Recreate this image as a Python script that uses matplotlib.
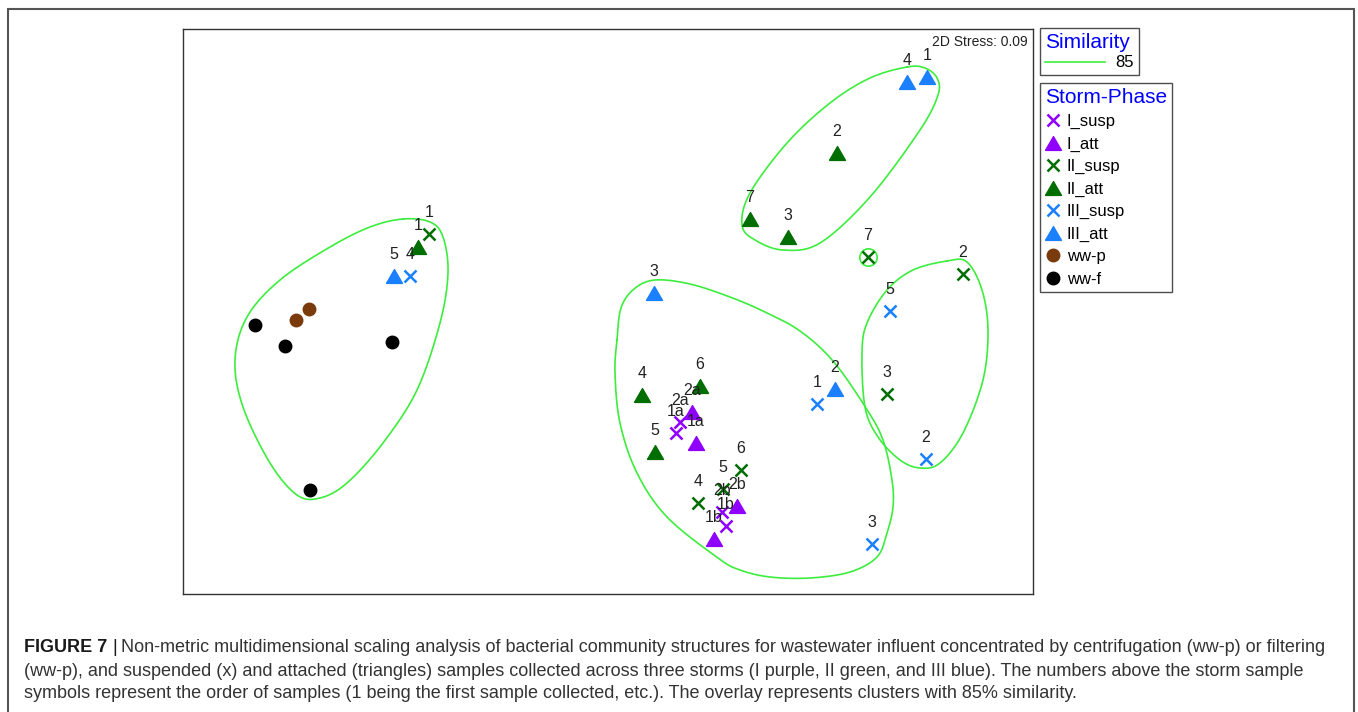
import numpy as np
import matplotlib
matplotlib.use("Agg")
import matplotlib.pyplot as plt
from matplotlib.lines import Line2D
from matplotlib.patches import Rectangle

# ---- NMDS ordination coordinates (plot units, y grows downward) ----
i_susp_x = [680, 676, 722, 726]
i_susp_y = [422, 433, 512, 526]
i_susp_lab = ["2a", "1a", "2b", "1b"]

i_att_x = [692, 696, 737, 714]
i_att_y = [412, 443, 506, 539]
i_att_lab = ["2a", "1a", "2b", "1b"]

ii_susp_x = [429, 868, 963, 887, 741, 723, 698]
ii_susp_y = [234, 257, 274, 394, 470, 489, 503]
ii_susp_lab = ["1", "7", "2", "3", "6", "5", "4"]

ii_att_x = [418, 837, 750, 788, 642, 700, 655]
ii_att_y = [247, 153, 219, 237, 395, 386, 452]
ii_att_lab = ["1", "2", "7", "3", "4", "6", "5"]

iii_susp_x = [410, 890, 817, 926, 872]
iii_susp_y = [276, 311, 404, 459, 544]
iii_susp_lab = ["4", "5", "1", "2", "3"]

iii_att_x = [907, 927, 394, 654, 835]
iii_att_y = [82, 77, 276, 293, 389]
iii_att_lab = ["4", "1", "5", "3", "2"]

ww_p_x = [296, 309]
ww_p_y = [320, 309]

ww_f_x = [255, 285, 392, 310]
ww_f_y = [325, 346, 342, 490]

# ---- 85 % similarity cluster outlines ----
clu_left_x = [403, 430, 443, 448, 440, 417, 383, 347, 320, 297, 270, 243, 235, 247, 280, 330, 370]
clu_left_y = [219, 222, 237, 273, 323, 390, 443, 483, 498, 495, 463, 407, 360, 317, 280, 247, 227]

clu_mid_x = [617, 621, 634, 655, 690, 730, 765, 800, 833, 866, 883, 892, 893, 887, 877, 850, 810, 770, 740, 718, 667, 637, 620, 615]
clu_mid_y = [340, 308, 289, 280, 284, 297, 312, 331, 361, 408, 440, 480, 507, 533, 557, 572, 578, 577, 570, 558, 517, 473, 423, 373]

clu_top_x = [907, 925, 937, 938, 920, 870, 820, 783, 755, 742, 750, 787, 830, 870]
clu_top_y = [67, 68, 78, 95, 130, 197, 243, 250, 240, 225, 193, 143, 103, 78]

clu_right_x = [947, 967, 982, 988, 983, 963, 940, 920, 900, 878, 865, 862, 867, 887, 913]
clu_right_y = [261, 262, 290, 330, 380, 433, 463, 468, 460, 437, 407, 353, 323, 290, 270]

stress_value = 0.09
similarity_level = 85

# ---- colours ----
C_I = "#8f00ff"
C_II = "#006e00"
C_III = "#1a80ff"
C_WWP = "#7a3b0c"
C_WWF = "#000000"
C_CLUSTER = "#3ded3d"

# flat (equilateral) triangle marker
TRI = [(-1.0, -0.866), (1.0, -0.866), (0.0, 0.866), (-1.0, -0.866)]


def closed_curve(xs, ys, n=40):
    """Smooth closed Catmull-Rom curve through the given vertices."""
    pts = np.column_stack([xs, ys]).astype(float)
    m = len(pts)
    t = np.linspace(0, 1, n, endpoint=False)[:, None]
    segs = []
    for i in range(m):
        p0, p1, p2, p3 = pts[(i - 1) % m], pts[i], pts[(i + 1) % m], pts[(i + 2) % m]
        segs.append(0.5 * (2 * p1 + (-p0 + p2) * t
                           + (2 * p0 - 5 * p1 + 4 * p2 - p3) * t ** 2
                           + (-p0 + 3 * p1 - 3 * p2 + p3) * t ** 3))
    segs.append(pts[:1])
    out = np.vstack(segs)
    return out[:, 0], out[:, 1]


W, H = 1358, 712
fig = plt.figure(figsize=(W / 100, H / 100), dpi=100)
fig.patch.set_facecolor("white")

ax = fig.add_axes([183 / W, 1 - 594 / H, (1033 - 183) / W, (594 - 29) / H])
ax.set_xlim(183, 1033)
ax.set_ylim(594, 29)
ax.set_xticks([])
ax.set_yticks([])
for s in ax.spines.values():
    s.set_color("#333333")
    s.set_linewidth(1.0)

# cluster overlays
for cx, cy in [(clu_left_x, clu_left_y), (clu_mid_x, clu_mid_y),
               (clu_top_x, clu_top_y), (clu_right_x, clu_right_y)]:
    sx, sy = closed_curve(cx, cy)
    ax.plot(sx, sy, color=C_CLUSTER, lw=1.2, zorder=1)
# single-sample cluster (storm II suspended sample 7)
ax.plot(ii_susp_x[1], ii_susp_y[1], "o", ms=12.5, mfc="none", mec=C_CLUSTER, mew=1.2, zorder=1)

label_font = dict(family=["Liberation Sans", "DejaVu Sans"], size=11.5, color="#222222")

groups = [
    (i_susp_x, i_susp_y, i_susp_lab, "x", C_I),
    (i_att_x, i_att_y, i_att_lab, "^", C_I),
    (ii_susp_x, ii_susp_y, ii_susp_lab, "x", C_II),
    (ii_att_x, ii_att_y, ii_att_lab, "^", C_II),
    (iii_susp_x, iii_susp_y, iii_susp_lab, "x", C_III),
    (iii_att_x, iii_att_y, iii_att_lab, "^", C_III),
]
for gx, gy, glab, mk, col in groups:
    if mk == "x":
        ax.plot(gx, gy, ls="none", marker="x", ms=8, mew=1.8, color=col, zorder=3)
    else:
        ax.plot(gx, gy, ls="none", marker=TRI, ms=11.5, color=col, mec=col, zorder=3)
    for x, y, t in zip(gx, gy, glab):
        ax.annotate(t, (x, y), xytext=(0, 15.5), textcoords="offset points",
                    ha="center", va="center", zorder=4, **label_font)

ax.plot(ww_p_x, ww_p_y, ls="none", marker="o", ms=9, color=C_WWP, zorder=3)
ax.plot(ww_f_x, ww_f_y, ls="none", marker="o", ms=9, color=C_WWF, zorder=3)

ax.text(0.994, 0.977, f"2D Stress: {stress_value:.2f}", transform=ax.transAxes,
        ha="right", va="center", family=["Liberation Sans", "DejaVu Sans"],
        size=10, color="#222222")

# ---- legends ----
leg_font = {"family": ["Liberation Sans", "DejaVu Sans"], "size": 12}
title_font = {"family": ["Liberation Sans", "DejaVu Sans"], "size": 15}

sim_handles = [Line2D([], [], color=C_CLUSTER, lw=1.2)]
leg1 = fig.legend(sim_handles, [str(similarity_level)], title="Similarity",
                  loc="upper left", bbox_to_anchor=(1040 / W, 1 - 28 / H),
                  borderaxespad=0, frameon=True, fancybox=False, prop=leg_font,
                  title_fontproperties=title_font, alignment="left",
                  handlelength=3.6, handletextpad=0.6, borderpad=0.3,
                  labelspacing=0.2)
leg1.get_title().set_color("#0000ff")
leg1.get_frame().set_edgecolor("#222222")
leg1.get_frame().set_linewidth(1.0)

names = ["I_susp", "I_att", "II_susp", "II_att", "III_susp", "III_att", "ww-p", "ww-f"]
sp_handles = [
    Line2D([], [], ls="none", marker="x", ms=8, mew=1.8, color=C_I),
    Line2D([], [], ls="none", marker=TRI, ms=11.5, color=C_I),
    Line2D([], [], ls="none", marker="x", ms=8, mew=1.8, color=C_II),
    Line2D([], [], ls="none", marker=TRI, ms=11.5, color=C_II),
    Line2D([], [], ls="none", marker="x", ms=8, mew=1.8, color=C_III),
    Line2D([], [], ls="none", marker=TRI, ms=11.5, color=C_III),
    Line2D([], [], ls="none", marker="o", ms=9, color=C_WWP),
    Line2D([], [], ls="none", marker="o", ms=9, color=C_WWF),
]
leg2 = fig.legend(sp_handles, names, title="Storm-Phase",
                  loc="upper left", bbox_to_anchor=(1040 / W, 1 - 83 / H),
                  borderaxespad=0, frameon=True, fancybox=False, prop=leg_font,
                  title_fontproperties=title_font, alignment="left",
                  handlelength=0.9, handletextpad=0.4, borderpad=0.3,
                  labelspacing=0.44)
leg2.get_title().set_color("#0000ff")
leg2.get_frame().set_edgecolor("#222222")
leg2.get_frame().set_linewidth(1.0)

# outer figure frame (runs off the bottom edge)
fig.add_artist(Rectangle((8 / W, -0.05), (1354 - 8) / W, 1 - 9 / H + 0.05,
                         transform=fig.transFigure, fill=False,
                         edgecolor="#555555", lw=1.5))

# ---- caption ----
cap_font = ["Liberation Sans", "DejaVu Sans"]
cap_size = 13
lines = [
    "Non-metric multidimensional scaling analysis of bacterial community structures for wastewater influent concentrated by centrifugation (ww-p) or filtering",
    "(ww-p), and suspended (x) and attached (triangles) samples collected across three storms (I purple, II green, and III blue). The numbers above the storm sample",
    "symbols represent the order of samples (1 being the first sample collected, etc.). The overlay represents clusters with 85% similarity.",
]
x0 = 24 / W
ys = [1 - 648 / H, 1 - 671 / H, 1 - 694 / H]
bold = fig.text(x0, ys[0], "FIGURE 7", family=cap_font, size=cap_size,
                weight="bold", color="#1a1a1a", va="center", ha="left")
fig.canvas.draw()
bb = bold.get_window_extent(fig.canvas.get_renderer())
bar = fig.text(bb.x1 / W + 5 / W, ys[0], "|", family=cap_font, size=cap_size,
               color="#1a1a1a", va="center", ha="left")
fig.canvas.draw()
bb2 = bar.get_window_extent(fig.canvas.get_renderer())
fig.text(bb2.x1 / W + 4 / W, ys[0], lines[0], family=cap_font, size=cap_size,
         color="#333333", va="center", ha="left")
fig.text(x0, ys[1], lines[1], family=cap_font, size=cap_size, color="#333333",
         va="center", ha="left")
fig.text(x0, ys[2], lines[2], family=cap_font, size=cap_size, color="#333333",
         va="center", ha="left")

fig.savefig("out.png", dpi=100, facecolor="white")
